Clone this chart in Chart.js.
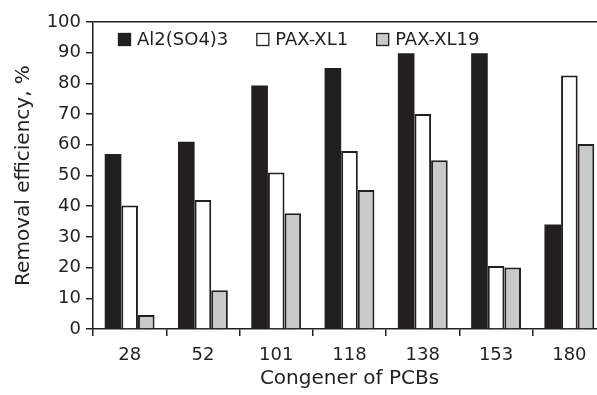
<!DOCTYPE html>
<html>
<head>
<meta charset="utf-8">
<script src="https://cdn.jsdelivr.net/npm/chart.js@4.4.0/dist/chart.umd.min.js"></script>
<style>
  html, body { margin: 0; padding: 0; background: #fff; overflow: hidden; }
  #wrap { width: 597px; height: 395px; overflow: hidden; }
</style>
</head>
<body>
<div id="wrap"><canvas id="myChart" width="620" height="395"></canvas></div>
<script>
'use strict';

const congeners = ['28', '52', '101', '118', '138', '153', '180'];
const alSulfate = [57, 61, 79.3, 85, 89.8, 89.8, 34];
const paxXl1 = [40.2, 42, 51, 58, 70, 20.5, 82.6];
const paxXl19 = [4.6, 12.6, 37.7, 45.3, 55, 20, 60.3];

const ink = '#231f20';
const tickFont = { family: 'DejaVu Sans', size: 18 };
const titleFont = { family: 'DejaVu Sans', size: 20 };

// legend sits inside the plot, top left
const innerLegend = {
  id: 'innerLegend',
  afterDraw(chart) {
    const ctx = chart.ctx;
    const area = chart.chartArea;
    let x = area.left + 25;
    const y = area.top + 11;
    ctx.save();
    ctx.font = '18px "DejaVu Sans"';
    ctx.textBaseline = 'middle';
    for (let ds of chart.data.datasets) {
      ctx.fillStyle = ds.backgroundColor;
      ctx.fillRect(x, y, 13, 13);
      ctx.strokeStyle = ink;
      ctx.lineWidth = 1.3;
      ctx.strokeRect(x + 0.5, y + 0.5, 12, 12);
      ctx.fillStyle = ink;
      ctx.fillText(ds.label, x + 19, y + 7);
      x += 19 + ctx.measureText(ds.label).width + 28;
    }
    ctx.restore();
  }
};

const ctx = document.getElementById('myChart').getContext('2d');
const myChart = new Chart(ctx, {
  type: 'bar',
  data: {
    labels: congeners,
    datasets: [
      { label: 'Al2(SO4)3', data: alSulfate, backgroundColor: ink, borderColor: ink, borderWidth: 0 },
      { label: 'PAX-XL1', data: paxXl1, backgroundColor: '#ffffff', borderColor: ink, borderWidth: 2 },
      { label: 'PAX-XL19', data: paxXl19, backgroundColor: '#c8c9ca', borderColor: ink, borderWidth: 2 }
    ]
  },
  options: {
    responsive: false,
    animation: false,
    layout: { padding: { top: 22, right: 14, left: 0, bottom: 0 } },
    datasets: { bar: { categoryPercentage: 0.68, barPercentage: 1 } },
    plugins: { legend: { display: false }, tooltip: { enabled: false } },
    scales: {
      x: {
        offset: true,
        grid: { offset: true, drawOnChartArea: false, color: ink, tickColor: ink, tickLength: 7, lineWidth: 1.5 },
        border: { color: ink, width: 1.5 },
        ticks: { color: ink, font: tickFont, padding: 9 },
        title: { display: true, text: 'Congener of PCBs', color: ink, font: titleFont, padding: { top: 4 } },
        afterFit(scale) { scale.height = 66; }
      },
      y: {
        min: 0,
        max: 100,
        ticks: { stepSize: 10, color: ink, font: tickFont, padding: 5 },
        grid: {
          color: (c) => c.tick && c.tick.value === 100 ? ink : 'rgba(0,0,0,0)',
          tickColor: ink,
          tickLength: 7,
          lineWidth: 1.5
        },
        border: { color: ink, width: 1.5 },
        title: { display: true, text: 'Removal efficiency, %', color: ink, font: titleFont, padding: { top: 12, bottom: 0 } },
        afterFit(scale) { scale.width = 93; }
      }
    }
  },
  plugins: [innerLegend]
});
</script>
</body>
</html>
